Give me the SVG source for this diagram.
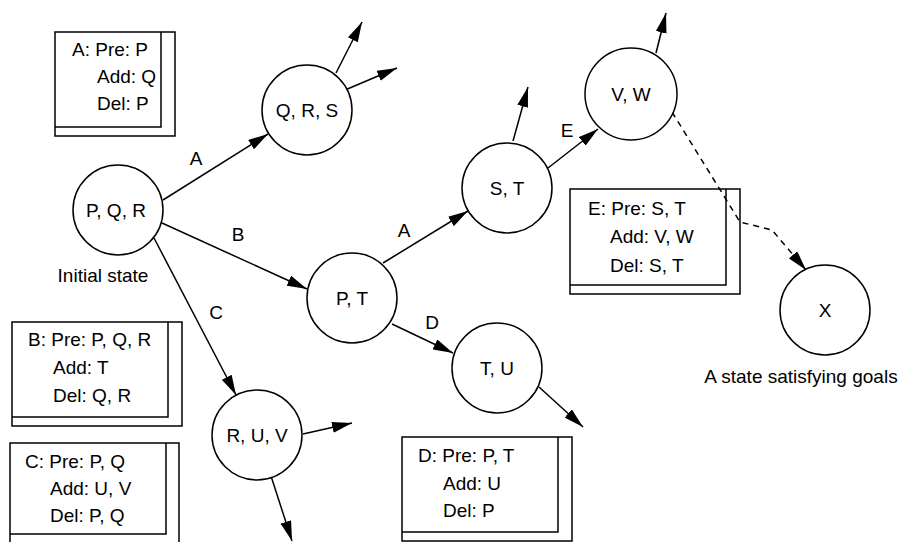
<svg xmlns="http://www.w3.org/2000/svg" width="903" height="542" viewBox="0 0 903 542">
  <style>
    text { font-family: "Liberation Sans", Arial, sans-serif; font-size: 19px; fill: #000; }
    .mid { text-anchor: middle; }
    .state { fill: #fff; stroke: #000; stroke-width: 1.5; }
    .frame { fill: none; stroke: #000; stroke-width: 1.5; }
    .edge { fill: none; stroke: #000; stroke-width: 1.5; marker-end: url(#head); }
    .dash { stroke-dasharray: 6 5; }
  </style>
  <defs>
    <marker id="head" viewBox="0 0 20 11" refX="20" refY="5.5" markerWidth="20" markerHeight="11" markerUnits="userSpaceOnUse" orient="auto">
      <path d="M0,0 L20,5.5 L0,11 z" fill="#000"/>
    </marker>
  </defs>
  <rect width="903" height="542" fill="#fff"/>

  <!-- connectors -->
  <g id="connectors">
    <line class="edge" x1="163" y1="200" x2="268" y2="134"/>
    <line class="edge" x1="162" y1="223" x2="307" y2="289"/>
    <line class="edge" x1="154" y1="238" x2="236" y2="395"/>
    <line class="edge" x1="336" y1="73" x2="362" y2="22"/>
    <line class="edge" x1="345" y1="90" x2="397" y2="68"/>
    <line class="edge" x1="383" y1="263" x2="468" y2="211"/>
    <line class="edge" x1="392" y1="324" x2="453" y2="353"/>
    <line class="edge" x1="513" y1="141" x2="528" y2="87"/>
    <line class="edge" x1="548" y1="168" x2="598" y2="129"/>
    <line class="edge" x1="656" y1="53" x2="666" y2="13"/>
    <line class="edge" x1="539" y1="387" x2="583" y2="427"/>
    <line class="edge" x1="303" y1="434" x2="352" y2="423"/>
    <line class="edge" x1="271" y1="476" x2="292" y2="541"/>
    <polyline class="edge dash" points="672,112 740,222 772,230 806,270"/>
    <text class="mid" x="196" y="165">A</text>
    <text class="mid" x="238" y="241">B</text>
    <text class="mid" x="216" y="319">C</text>
    <text class="mid" x="404" y="237">A</text>
    <text class="mid" x="432" y="329">D</text>
    <text class="mid" x="567" y="137">E</text>
  </g>

  <!-- states -->
  <g id="s-pqr">
    <circle class="state" cx="118" cy="210" r="45"/>
    <text class="mid" x="116" y="217">P, Q, R</text>
    <text class="mid" x="103" y="282">Initial state</text>
  </g>
  <g id="s-qrs">
    <circle class="state" cx="307" cy="110" r="45"/>
    <text class="mid" x="307" y="117">Q, R, S</text>
  </g>
  <g id="s-pt">
    <circle class="state" cx="352" cy="298" r="45"/>
    <text class="mid" x="352" y="305">P, T</text>
  </g>
  <g id="s-st">
    <circle class="state" cx="507" cy="188" r="45"/>
    <text class="mid" x="507" y="195">S, T</text>
  </g>
  <g id="s-vw">
    <circle class="state" cx="631" cy="94" r="46"/>
    <text class="mid" x="631" y="101">V, W</text>
  </g>
  <g id="s-tu">
    <circle class="state" cx="497" cy="368" r="45"/>
    <text class="mid" x="497" y="375">T, U</text>
  </g>
  <g id="s-ruv">
    <circle class="state" cx="257" cy="435" r="45"/>
    <text class="mid" x="257" y="442">R, U, V</text>
  </g>
  <g id="s-x">
    <circle class="state" cx="825" cy="310" r="45"/>
    <text class="mid" x="825" y="317">X</text>
    <text class="mid" x="801" y="383">A state satisfying goals</text>
  </g>

  <!-- operator cards -->
  <g id="op-a">
    <path class="frame" d="M55,32 H175 V136 H55 Z M55,127 H161 V32"/>
    <text x="72" y="56">A: Pre: P</text>
    <text x="97" y="83">Add: Q</text>
    <text x="97" y="110">Del: P</text>
  </g>
  <g id="op-b">
    <path class="frame" d="M12,322 H182 V426 H12 Z M12,417 H168 V322"/>
    <text x="28" y="346">B: Pre: P, Q, R</text>
    <text x="53" y="374">Add: T</text>
    <text x="53" y="402">Del: Q, R</text>
  </g>
  <g id="op-c">
    <path class="frame" d="M10,443 H179 V545 H10 Z M10,534 H166 V443"/>
    <text x="25" y="468">C: Pre: P, Q</text>
    <text x="50" y="495">Add: U, V</text>
    <text x="50" y="522">Del: P, Q</text>
  </g>
  <g id="op-d">
    <path class="frame" d="M402,437 H572 V541 H402 Z M402,532 H558 V437"/>
    <text x="418" y="462">D: Pre: P, T</text>
    <text x="443" y="490">Add: U</text>
    <text x="443" y="517">Del: P</text>
  </g>
  <g id="op-e">
    <path class="frame" d="M570,189 H740 V294 H570 Z M570,285 H726 V189"/>
    <text x="588" y="215">E: Pre: S, T</text>
    <text x="610" y="243">Add: V, W</text>
    <text x="610" y="272">Del: S, T</text>
  </g>
</svg>
